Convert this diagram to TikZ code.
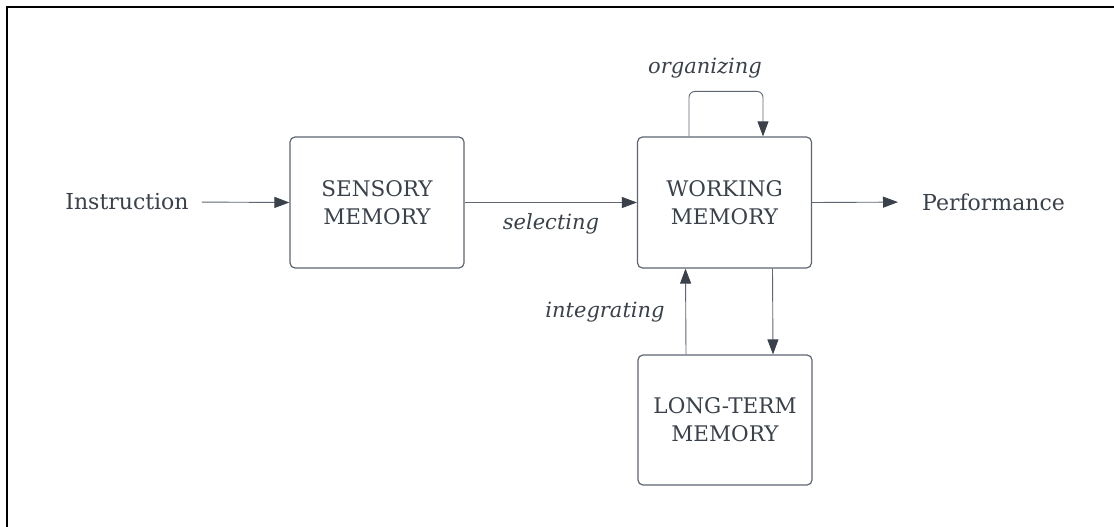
\documentclass[tikz,border=0pt]{standalone}
\usepackage{fontspec}
\setmainfont{DejaVu Serif}
\usetikzlibrary{arrows.meta}
\definecolor{txt}{HTML}{3A414A}
\definecolor{ln}{HTML}{5F6672}
\definecolor{tip}{HTML}{3A414A}
\tikzset{
  box/.style={draw=ln, line width=1.2pt, rounded corners=5pt, minimum width=174pt, minimum height=131pt, align=center, text=txt, font=\fontsize{21.5}{28}\selectfont, inner sep=0pt},
  plain/.style={text=txt, font=\fontsize{22}{28}\selectfont, inner sep=0pt},
  lbl/.style={text=txt, font=\fontsize{21}{28}\selectfont\itshape, inner sep=0pt},
  conn/.style={draw=ln, line width=0.9pt, -{Triangle[length=15pt, width=11pt, fill=tip, color=tip]}},
}
\begin{document}
\begin{tikzpicture}[x=1pt, y=-1pt]
\useasboundingbox (0,0) rectangle (1114,527);
\fill[white] (0,0) rectangle (1114,527);
\draw[black, line width=2pt] (7,527) -- (7,7) -- (1114,7);
\node[plain] (instr) at (127,202) {Instruction};
\node[box] (sens) at (377,202.5) {SENSORY\\MEMORY};
\node[box] (work) at (724.5,202.5) {WORKING\\MEMORY};
\node[box, minimum height=130pt] (lt) at (725,420) {LONG-TERM\\MEMORY};
\node[plain, anchor=west] (perf) at (922,202) {Performance};
\node[lbl] (sel) at (551,224) {selecting};
\node[lbl] (org) at (705,68) {organizing};
\node[lbl] (integ) at (605,312) {integrating};
\draw[conn, shorten <=13pt] (instr.east) -- (sens.west);
\draw[conn] (sens.east) -- (work.west);
\draw[conn, shorten >=24pt] (work.east) -- (perf.west);
\draw[conn, rounded corners=6pt] ([xshift=-35.5pt]work.north) -- ++(0pt,45pt) -| ([xshift=38.5pt]work.north);
\draw[conn] ([xshift=-39pt]lt.north) -- ([xshift=-39pt]work.south);
\draw[conn] ([xshift=48pt]work.south) -- ([xshift=48pt]lt.north);
\end{tikzpicture}
\end{document}
